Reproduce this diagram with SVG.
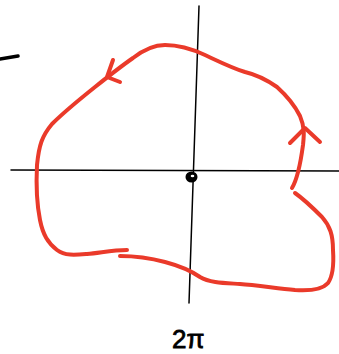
<svg xmlns="http://www.w3.org/2000/svg" width="339" height="354" viewBox="0 0 339 354">
<style>
.axis{stroke:#000;stroke-width:1.5;fill:none;stroke-linecap:round}
.curve{stroke:#ea3a2a;stroke-width:4;fill:none;stroke-linecap:round;stroke-linejoin:round}
.lbl{font-family:"Liberation Sans",Arial,sans-serif;font-size:26px;fill:#000;stroke:#000;stroke-width:0.8}
</style>
<rect width="339" height="354" fill="#fff"/>
<g id="connectors">
<line class="axis" x1="199" y1="6" x2="189" y2="303"/>
<line class="axis" x1="11" y1="170" x2="339" y2="171"/>
<path d="M0,59 L18,56" stroke="#000" stroke-width="3.5" fill="none" stroke-linecap="round"/>
<path class="curve" d="M292,188 C298,178 301,160 303,145 C304,135 305,128 300,116 C294,104 287,96 277,87 C267,80 258,75 245,72 C232,68 220,62 205,55 C190,48 178,45 165,45 C152,45 142,51 133,58 C120,67 110,75 95,87 C80,99 65,111 52,124 C42,136 39,145 37,165 C36,185 37,205 40,220 C43,235 48,243 57,250 C65,256 75,255 87,254 C100,253 112,250 127,250"/>
<path class="curve" stroke-width="5" d="M120,256 C135,256 150,258 165,262 C180,266 190,270 200,277 C210,283 225,283 240,284 C255,285 275,288 295,290 C310,291 322,290 328,283 C333,276 334,265 333,250 C333,235 330,226 322,217 C314,209 305,200 295,193"/>
<path class="curve" d="M290,143 L305,128 L320,142"/>
<path class="curve" d="M113,60 L107,77 L120,82"/>
</g>
<g id="origin">
<ellipse cx="191.5" cy="177" rx="6" ry="5.5" fill="#000"/>
<ellipse cx="192.5" cy="176" rx="1.8" ry="1.2" fill="#fff"/>
</g>
<g id="label">
<text class="lbl" x="172" y="348">2π</text>
</g>
</svg>
